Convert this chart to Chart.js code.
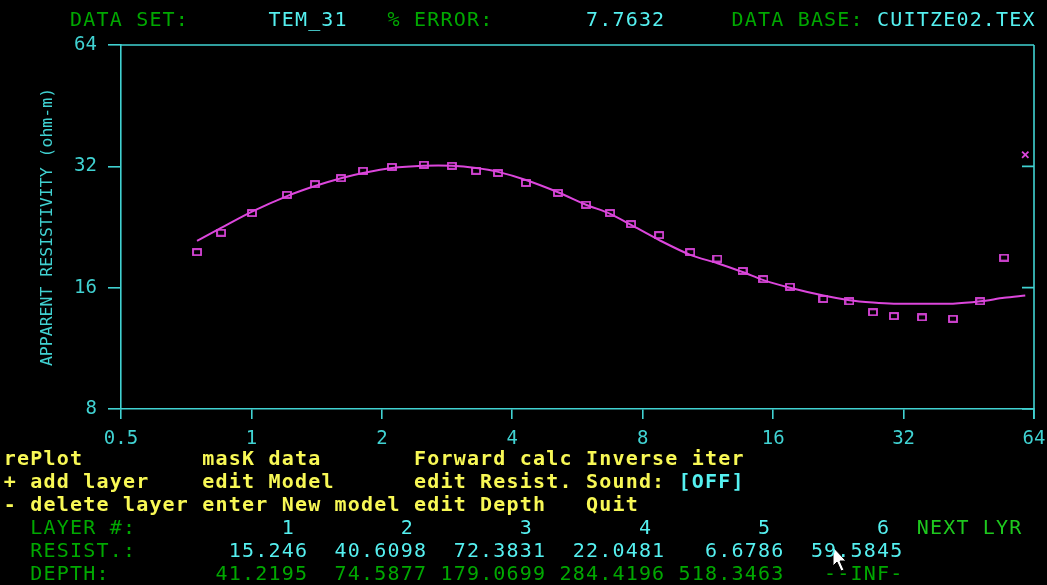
<!DOCTYPE html>
<html>
<head>
<meta charset="utf-8">
<script src="https://cdn.jsdelivr.net/npm/chart.js@4.4.1/dist/chart.umd.min.js"></script>
<style>
  html, body { margin: 0; padding: 0; background: #000; }
  #screen { position: relative; width: 1047px; height: 585px; overflow: hidden; background: #000; }
  #chart { position: absolute; left: 0; top: 0; }
  .t {
    position: absolute; height: 23px; line-height: 23px; white-space: pre;
    font-family: "DejaVu Sans Mono", monospace; font-size: 20px; letter-spacing: 1.19px;
  }
  .b { font-weight: bold; }
  .g { color: #00A800; }
  .lg { color: #1EC81E; }
  .c { color: #55F0F0; }
  .y { color: #F8F855; }
  #cursor { position: absolute; left: 832px; top: 546px; }
</style>
</head>
<body>
<div id="screen">
  <canvas id="chart" width="1047" height="585"></canvas>
  <svg id="cursor" width="16" height="26" viewBox="0 0 16 26">
    <polygon points="1,1 1,20 5,16 9,25 12,24 8,15 14,15" fill="#fff" stroke="#000" stroke-width="1"/>
  </svg>
</div>
<script>
// sounding times (x) and apparent resistivity (y)
const times = [0.749, 0.851, 1.003, 1.208, 1.402, 1.61, 1.81, 2.11, 2.50, 2.90, 3.30, 3.71,
               4.30, 5.10, 5.92, 6.73, 7.52, 8.73, 10.3, 11.9, 13.6, 15.2, 17.5, 20.9,
               24.0, 27.2, 30.4, 35.3, 41.6, 48.1, 54.6, 61.1];
const observed = [19.6, 21.9, 24.5, 27.2, 28.9, 29.9, 31.2, 31.9, 32.3, 32.1, 31.2, 30.8,
                  29.1, 27.5, 25.7, 24.5, 23.0, 21.6, 19.6, 18.9, 17.6, 16.8, 16.1, 15.0,
                  14.8, 13.9, 13.6, 13.5, 13.4, 14.8, 19.0];
const maskedValue = 34.2;   // last time gate, masked (x)
const model = [20.9, 22.5, 24.7, 27.0, 28.6, 29.9, 30.8, 31.7, 32.1, 32.1, 31.7, 31.0,
               29.6, 27.6, 25.7, 24.4, 22.9, 21.0, 19.3, 18.4, 17.5, 16.7, 16.0, 15.3,
               14.9, 14.7, 14.6, 14.6, 14.6, 14.8, 15.1, 15.3];
const xTicks = [0.5, 1, 2, 4, 8, 16, 32, 64];
const yTicks = [8, 16, 32, 64];

// layer table
const layerNums = ['1', '2', '3', '4', '5', '6'];
const resist = ['15.246', '40.6098', '72.3831', '22.0481', '6.6786', '59.5845'];
const depth = ['41.2195', '74.5877', '179.0699', '284.4196', '518.3463', '--INF-'];

const AXIS = '#40D2D2';
const MAG = '#DC46DC';
const FONT = 'DejaVu Sans Mono';

// text screen helpers (80 col grid)
const screen = document.getElementById('screen');
const COL = 13.23, ROW = 23.08;
function put(row, col, text, cls) {
    const s = document.createElement('span');
    s.className = 't ' + cls;
    s.textContent = text;
    s.style.left = (3.85 + col * COL) + 'px';
    s.style.top = (20 + row * ROW - 12) + 'px';
    screen.appendChild(s);
}
function putRight(row, endCol, text, cls) {
    put(row, endCol - text.length + 1, text, cls);
}

put(0, 5, 'DATA SET:', 'g');
put(0, 20, 'TEM_31', 'c');
put(0, 29, '% ERROR:', 'g');
put(0, 44, '7.7632', 'c');
put(0, 55, 'DATA BASE:', 'g');
put(0, 66, 'CUITZE02.TEX', 'c');

put(19, 0, 'rePlot', 'y b');
put(19, 15, 'masK data', 'y b');
put(19, 31, 'Forward calc', 'y b');
put(19, 44, 'Inverse iter', 'y b');
put(20, 0, '+ add layer', 'y b');
put(20, 15, 'edit Model', 'y b');
put(20, 31, 'edit Resist.', 'y b');
put(20, 44, 'Sound:', 'y b');
put(20, 51, '[OFF]', 'c b');
put(21, 0, '- delete layer', 'y b');
put(21, 15, 'enter New model', 'y b');
put(21, 31, 'edit Depth', 'y b');
put(21, 44, 'Quit', 'y b');

put(22, 2, 'LAYER #:', 'g');
put(23, 2, 'RESIST.:', 'g');
put(24, 2, 'DEPTH:', 'g');
layerNums.forEach((n, i) => putRight(22, 21 + i * 9, n, 'c'));
resist.forEach((v, i) => putRight(23, 22 + i * 9, v, 'c'));
depth.forEach((v, i) => putRight(24, 22 + i * 9, v, 'g'));
put(22, 69, 'NEXT LYR', 'lg');

// hollow rectangle marker
const box = document.createElement('canvas');
box.width = 10; box.height = 8;
const bctx = box.getContext('2d');
bctx.strokeStyle = MAG;
bctx.lineWidth = 1.8;
bctx.strokeRect(1, 1, 8, 6);

// top/right frame and inward right ticks
const framePlugin = {
    id: 'frame',
    afterDraw(chart) {
        const { ctx, chartArea: a } = chart;
        const y = chart.scales.y;
        ctx.save();
        ctx.strokeStyle = AXIS;
        ctx.lineWidth = 1.6;
        ctx.beginPath();
        ctx.moveTo(a.left, a.top);
        ctx.lineTo(a.right, a.top);
        ctx.moveTo(a.right, a.top);
        ctx.lineTo(a.right, a.bottom + 10);
        yTicks.forEach(v => {
            const py = y.getPixelForValue(v);
            ctx.moveTo(a.right - 12, py);
            ctx.lineTo(a.right, py);
        });
        ctx.stroke();
        ctx.restore();
    }
};

new Chart(document.getElementById('chart'), {
    type: 'scatter',
    data: {
        datasets: [
            {
                label: 'model',
                data: times.map((t, i) => ({ x: t, y: model[i] })),
                showLine: true,
                borderColor: MAG,
                borderWidth: 2,
                pointRadius: 0,
                tension: 0.3
            },
            {
                label: 'observed',
                data: observed.map((v, i) => ({ x: times[i], y: v })),
                showLine: false,
                pointStyle: box,
                pointRadius: 5
            },
            {
                label: 'masked',
                data: [{ x: times[times.length - 1], y: maskedValue }],
                showLine: false,
                pointStyle: 'crossRot',
                pointRadius: 4.5,
                borderColor: MAG,
                borderWidth: 1.8
            }
        ]
    },
    options: {
        responsive: false,
        animation: false,
        devicePixelRatio: 1,
        layout: { padding: { left: 0, right: 13, top: 45, bottom: 136 } },
        plugins: {
            legend: { display: false },
            tooltip: { enabled: false }
        },
        scales: {
            x: {
                type: 'logarithmic',
                min: 0.5,
                max: 64,
                afterBuildTicks: s => { s.ticks = xTicks.map(v => ({ value: v })); },
                afterFit: s => { s.height = 40; s.paddingLeft = 0; s.paddingRight = 0; },
                grid: { drawOnChartArea: false, tickLength: 10, color: AXIS, lineWidth: 1.6 },
                border: { color: AXIS, width: 1.6 },
                ticks: {
                    color: AXIS,
                    autoSkip: false,
                    maxRotation: 0,
                    padding: 9,
                    font: { family: FONT, size: 19 },
                    callback: v => String(v)
                }
            },
            y: {
                type: 'logarithmic',
                min: 8,
                max: 64,
                afterBuildTicks: s => { s.ticks = yTicks.map(v => ({ value: v })); },
                afterFit: s => { s.width = 121; },
                grid: { drawOnChartArea: false, tickLength: 13, color: AXIS, lineWidth: 1.6 },
                border: { color: AXIS, width: 1.6 },
                ticks: {
                    color: AXIS,
                    autoSkip: false,
                    padding: 11,
                    font: { family: FONT, size: 19 },
                    callback: v => String(v)
                },
                title: {
                    display: true,
                    text: 'APPARENT RESISTIVITY (ohm-m)',
                    color: AXIS,
                    font: { family: FONT, size: 16.5 },
                    padding: { top: 38, bottom: 0 }
                }
            }
        }
    },
    plugins: [framePlugin]
});
</script>
</body>
</html>
